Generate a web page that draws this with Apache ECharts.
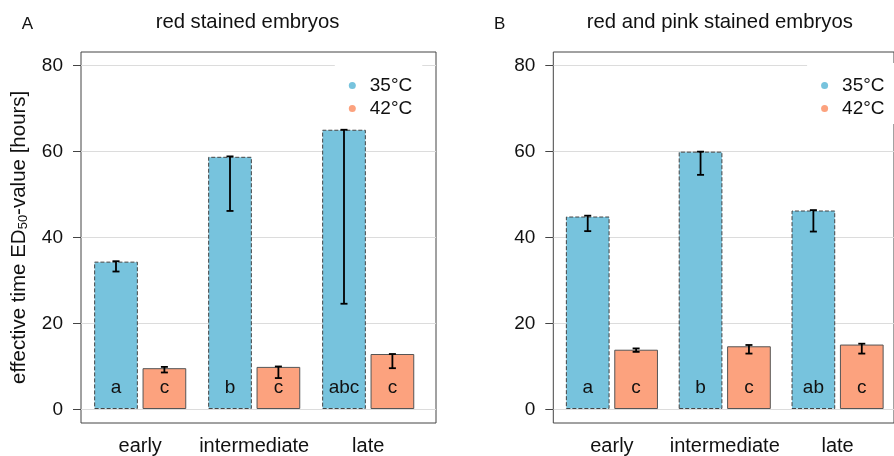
<!DOCTYPE html>
<html><head><meta charset="utf-8">
<script src="https://cdn.jsdelivr.net/npm/echarts@6/dist/echarts.min.js"></script>
<style>html,body{margin:0;padding:0;background:#fff}#c{width:894px;height:456px}</style>
</head><body><div id="c"></div>
<script>
// ---------- data ----------
const categories = ['early', 'intermediate', 'late'];
const seriesNames = ['35°C', '42°C'];
const yTicks = [0, 20, 40, 60, 80];
const yTitle = 'effective time ED{s|50}-value [hours]';

// Panel A: red stained embryos
const aLetter = 'A';
const aTitle = 'red stained embryos';
const a35 = [34.3, 58.7, 65.0];
const a35Low = [32.0, 46.1, 24.5];
const a35High = [34.4, 58.8, 65.0];
const a35Letters = ['a', 'b', 'abc'];
const a42 = [9.5, 9.8, 12.8];
const a42Low = [8.5, 7.2, 9.5];
const a42High = [9.8, 9.9, 12.8];
const a42Letters = ['c', 'c', 'c'];

// Panel B: red and pink stained embryos
const bLetter = 'B';
const bTitle = 'red and pink stained embryos';
const b35 = [44.8, 59.9, 46.2];
const b35Low = [41.4, 54.5, 41.3];
const b35High = [45.0, 59.9, 46.3];
const b35Letters = ['a', 'b', 'ab'];
const b42 = [13.8, 14.6, 15.0];
const b42Low = [13.3, 12.9, 12.9];
const b42High = [14.1, 14.9, 15.2];
const b42Letters = ['c', 'c', 'c'];

// ---------- style ----------
const FONT = "'Liberation Sans', Arial, sans-serif";
const BLUE = '#77C3DD';
const ORANGE = '#FCA27E';
const BORDER = '#444';
const BAR_W = 43.7;
const BAR_GAP_PX = 4.7;
const ERR_OFF = (BAR_W + BAR_GAP_PX) / 2;
const CAP = 7;
const PANEL_DX = 472.3;

const yMin = yTicks[0], yMax = yTicks[yTicks.length - 1], yInt = yTicks[1] - yTicks[0];

const grids = [], xAxes = [], yAxes = [], series = [], legends = [], graphics = [];

function errSeries(ai, lo, hi, side) {
  return {
    type: 'custom', xAxisIndex: ai, yAxisIndex: ai, z: 6, silent: true,
    data: lo.map((v, i) => [i, v, hi[i]]),
    encode: { x: 0, y: [1, 2] },
    renderItem: (params, api) => {
      const i = api.value(0);
      const p1 = api.coord([i, api.value(1)]);
      const p2 = api.coord([i, api.value(2)]);
      const x = p1[0] + side * ERR_OFF;
      const h = CAP / 2;
      const st = { stroke: '#000', lineWidth: 1.8 };
      return { type: 'group', children: [
        { type: 'line', shape: { x1: x, y1: p1[1], x2: x, y2: p2[1] }, style: st },
        { type: 'line', shape: { x1: x - h, y1: p1[1], x2: x + h, y2: p1[1] }, style: st },
        { type: 'line', shape: { x1: x - h, y1: p2[1], x2: x + h, y2: p2[1] }, style: st }
      ]};
    }
  };
}

function addPanel(p, dx, letter, title, v35, l35, h35, t35, v42, l42, h42, t42, showName) {
  const base = p * 3;
  // frame grid
  grids.push({ left: 81 + dx, top: 52, width: 355, height: 371, show: true,
    borderColor: BORDER, borderWidth: 1, backgroundColor: 'transparent' });
  xAxes.push({ gridIndex: base, type: 'value', show: false });
  yAxes.push({ gridIndex: base, type: 'value', show: false });
  // scale grid
  grids.push({ left: 81 + dx, top: 65.3, width: 355, height: 344 });
  xAxes.push({ gridIndex: base + 1, type: 'value', show: false });
  yAxes.push({ gridIndex: base + 1, type: 'value', min: yMin, max: yMax, interval: yInt,
    axisLine: { show: false },
    axisTick: { show: true, length: 8, lineStyle: { color: BORDER, width: 1 } },
    axisLabel: { fontSize: 19, fontFamily: FONT, color: '#111', margin: 18 },
    splitLine: { show: true, lineStyle: { color: '#dcdcdc', width: 1 } },
    name: showName ? yTitle : '', nameLocation: 'middle', nameGap: 51, nameRotate: 90,
    nameTextStyle: { fontSize: 20.5, fontFamily: FONT, color: '#111',
      rich: { s: { fontSize: 13, fontFamily: FONT, color: '#111', padding: [9, 0, 0, 0] } } }
  });
  // data grid
  grids.push({ left: 83.2 + dx, top: 65.3, width: 342, height: 344 });
  xAxes.push({ gridIndex: base + 2, type: 'category', data: categories,
    axisLine: { show: false }, axisTick: { show: false },
    axisLabel: { interval: 0, hideOverlap: false, fontSize: 20, fontFamily: FONT, color: '#111', margin: 27 } });
  yAxes.push({ gridIndex: base + 2, type: 'value', min: yMin, max: yMax, show: false });

  const lab = (arr) => ({ show: true, position: 'insideBottom', distance: 12,
    fontSize: 19, fontFamily: FONT, color: '#111', formatter: (pp) => arr[pp.dataIndex] });
  series.push({ name: seriesNames[0], type: 'bar', xAxisIndex: base + 2, yAxisIndex: base + 2,
    data: v35, barWidth: BAR_W, barGap: (BAR_GAP_PX / BAR_W * 100) + '%',
    itemStyle: { color: BLUE, borderColor: BORDER, borderWidth: 1, borderType: [4, 2] },
    label: lab(t35), emphasis: { disabled: true }, silent: true });
  series.push({ name: seriesNames[1], type: 'bar', xAxisIndex: base + 2, yAxisIndex: base + 2,
    data: v42, barWidth: BAR_W, barGap: (BAR_GAP_PX / BAR_W * 100) + '%',
    itemStyle: { color: ORANGE, borderColor: '#555', borderWidth: 1 },
    label: lab(t42), emphasis: { disabled: true }, silent: true });
  series.push(errSeries(base + 2, l35, h35, -1));
  series.push(errSeries(base + 2, l42, h42, 1));

  legends.push({ data: seriesNames, orient: 'vertical', left: 334.8 + dx, top: 63,
    icon: 'circle', itemWidth: 7, itemHeight: 7, itemGap: 4, selectedMode: false,
    itemStyle: { borderWidth: 0 },
    backgroundColor: '#fff', padding: [13, 10, 6, 14],
    textStyle: { fontSize: 19, fontFamily: FONT, color: '#111', lineHeight: 19, padding: [0, 0, 0, 9] } });

  graphics.push({ type: 'text', x: 21.7 + dx, y: 24, style: { text: letter, fontSize: 17,
    fontFamily: FONT, fill: '#111', textAlign: 'left', textVerticalAlign: 'middle' } });
  graphics.push({ type: 'text', x: 247.5 + dx, y: 22, style: { text: title, fontSize: 20.3,
    fontFamily: FONT, fill: '#111', textAlign: 'center', textVerticalAlign: 'middle' } });
}

addPanel(0, 0, aLetter, aTitle, a35, a35Low, a35High, a35Letters, a42, a42Low, a42High, a42Letters, true);
addPanel(1, PANEL_DX, bLetter, bTitle, b35, b35Low, b35High, b35Letters, b42, b42Low, b42High, b42Letters, false);

const chart = echarts.init(document.getElementById('c'), null, { renderer: 'canvas' });
chart.setOption({
  animation: false,
  backgroundColor: '#fff',
  color: [BLUE, ORANGE],
  grid: grids, xAxis: xAxes, yAxis: yAxes, series: series, legend: legends,
  graphic: graphics
});
</script>
</body></html>
